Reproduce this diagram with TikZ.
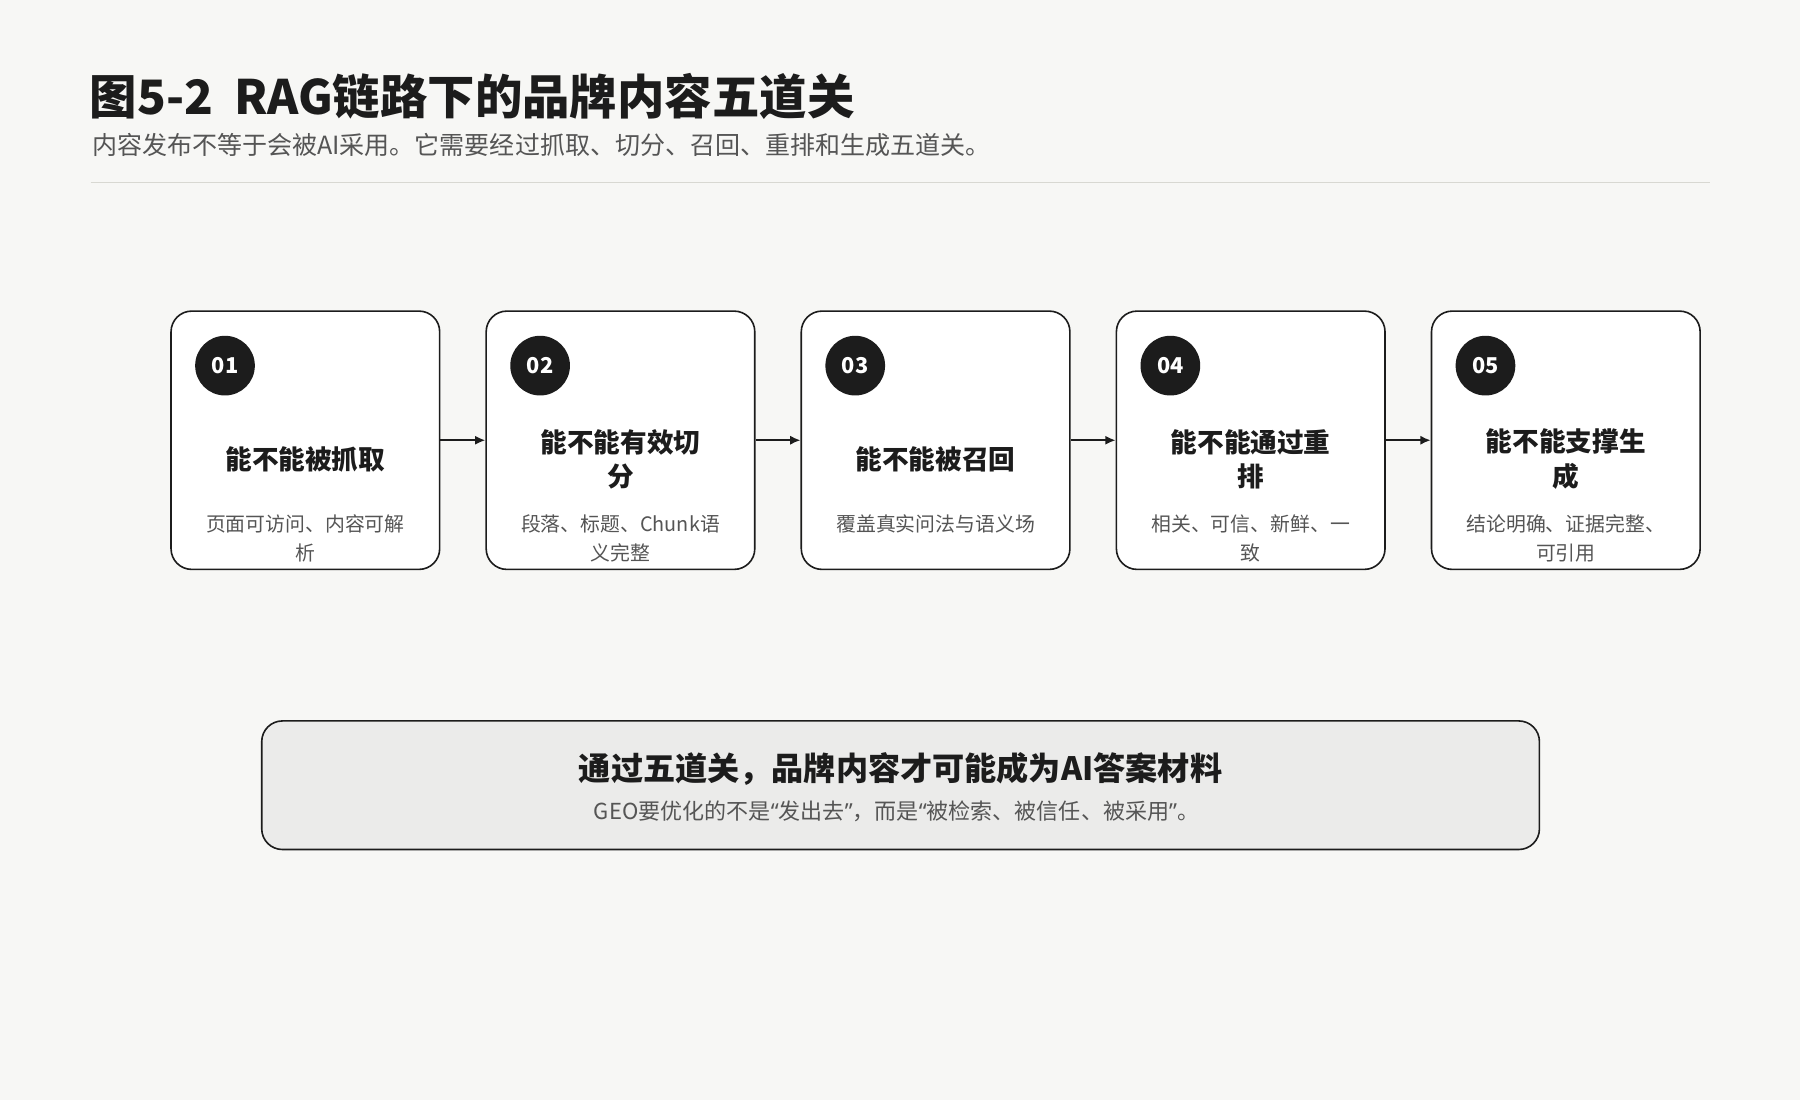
\documentclass[tikz,border=0pt]{standalone}
\usepackage{fontspec}
\setmainfont{Noto Sans CJK SC}
\newfontfamily\latinfont{Noto Sans}
\newcommand\openq{{\latinfont “}}
\newcommand\closeq{{\latinfont ”}}
\usetikzlibrary{arrows.meta}
\definecolor{paper}{HTML}{F7F7F5}
\definecolor{ink}{HTML}{1C1C1C}
\definecolor{greytext}{HTML}{555555}
\definecolor{rulegrey}{HTML}{D8D8D2}
\definecolor{sumfill}{HTML}{EBEBEA}
\tikzset{
    gatebox/.style = {draw=ink, line width=1.4pt, fill=white, rounded corners=18pt,
        minimum width=234pt, minimum height=225pt, inner sep=0pt},
    gatenum/.style = {circle, fill=ink, text=white, minimum size=52pt, inner sep=0pt,
        font=\fontsize{19}{22}\selectfont\bfseries},
    gatetitle/.style = {text=ink, align=center, inner sep=0pt,
        font=\fontsize{23.2}{30}\selectfont\bfseries},
    gatedesc/.style = {text=greytext, align=center, inner sep=0pt, anchor=north,
        font=\fontsize{17.3}{25}\selectfont},
    pics/gate/.style n args = {3}{
        code = {
        \node[gatebox] (-box) at (0,0) {};
        \node[gatenum] (-num) at (-70,-65) {#1};
        \node[gatetitle] (-title) at (0,16.5) {#2};
        \node[gatedesc] (-desc) at (0,65) {#3};
        }
    }
}

\begin{document}
\begin{tikzpicture}[x=1pt, y=-1pt]
    \fill[paper] (0,0) rectangle (1568,958);
    \useasboundingbox (0,0) rectangle (1568,958);

    \node[anchor=base west, inner sep=0pt, text=ink, font=\fontsize{41.3}{50}\selectfont\bfseries]
        (head) at (78,100) {图5-2\hspace{0.45em}RAG链路下的品牌内容五道关};
    \node[anchor=base west, inner sep=0pt, text=greytext, font=\fontsize{21.8}{26}\selectfont]
        (sub) at (80,134.5) {内容发布不等于会被AI采用。它需要经过抓取、切分、召回、重排和生成五道关。};
    \coordinate (rulel) at (79,159);
    \coordinate (ruler) at (1490,159);
    \draw[rulegrey, line width=1.5pt] (rulel) -- (ruler);

    \path pic (g1) at (266,383.5) {gate={01}{能不能被抓取}{页面可访问、内容可解\\析}};
    \path pic (g2) at (540.5,383.5) {gate={02}{能不能有效切\\分}{段落、标题、Chunk语\\义完整}};
    \path pic (g3) at (815,383.5) {gate={03}{能不能被召回}{覆盖真实问法与语义场}};
    \path pic (g4) at (1089.5,383.5) {gate={04}{能不能通过重\\排}{相关、可信、新鲜、一\\致}};
    \path pic (g5) at (1364,383.5) {gate={05}{能不能支撑生\\成}{结论明确、证据完整、\\可引用}};

    \draw [-{Latex[length=9pt,width=8pt]}, line width=1.6pt, ink] (g1-box) -- (g2-box);
    \draw [-{Latex[length=9pt,width=8pt]}, line width=1.6pt, ink] (g2-box) -- (g3-box);
    \draw [-{Latex[length=9pt,width=8pt]}, line width=1.6pt, ink] (g3-box) -- (g4-box);
    \draw [-{Latex[length=9pt,width=8pt]}, line width=1.6pt, ink] (g4-box) -- (g5-box);

    \node[draw=ink, line width=1.4pt, fill=sumfill, rounded corners=18pt,
        minimum width=1113pt, minimum height=112pt] (sum) at (784.5,684) {};
    \node[text=ink, inner sep=0pt, font=\fontsize{28}{32}\selectfont\bfseries]
        (sumtitle) at (784.5,670) {通过五道关，品牌内容才可能成为AI答案材料};
    \node[text=greytext, inner sep=0pt, font=\fontsize{19.2}{22}\selectfont]
        (sumsub) at (781,707) {GEO要优化的不是\openq 发出去\closeq ，而是\openq 被检索、被信任、被采用\closeq 。};

\end{tikzpicture}
\end{document}
